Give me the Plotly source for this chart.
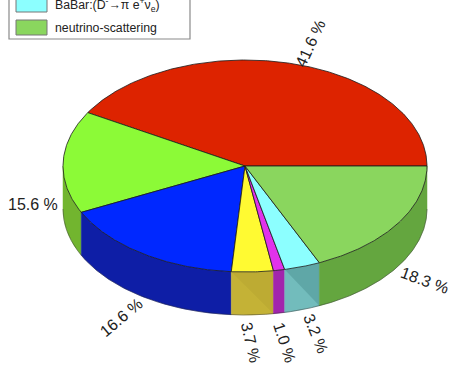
import numpy as np
import plotly.graph_objects as go

# Shares in percent, drawn counter-clockwise from the +x direction
names = ["red", "lime", "blue", "yellow", "magenta", "BaBar", "neutrino-scattering"]
shares = [41.6, 15.6, 16.6, 3.7, 1.0, 3.2, 18.3]
top_colors = ["#DD2300", "#8CFA37", "#0028FF", "#FFFA32", "#E132EB", "#8CFFFF", "#8AD65E"]
side_colors = ["#A01A00", "#72B52F", "#0E1EA6", "#C4B236", "#A226AC", "#72BCBC", "#64A63F"]
value_labels = ["41.6 %", "15.6 %", "16.6 %", "3.7 %", "1.0 %", "3.2 %", "18.3 %"]
label_x = [310, 33, 121, 251, 285, 316, 425]
label_y = [43, 204, 317, 342, 342, 333, 280]
label_rot = [-65, 0, -40, 77, 72, 68, 20]

legend_labels = ["BaBar:(D<sup>-</sup>→π e<sup>+</sup>ν<sub>e</sub>)", "neutrino-scattering"]
legend_colors = ["#8CFFFF", "#8AD65E"]

CX, CY, RX, RY, DEPTH = 245, 166, 182, 106, 43
FONT = "Liberation Sans"


def rim(a0, a1):
    t = np.radians(np.linspace(a0, a1, max(int(abs(a1 - a0)) * 2, 2) + 1))
    return CX + RX * np.cos(t), CY - RY * np.sin(t)


fig = go.Figure()
edges = np.concatenate([[0], np.cumsum(shares) * 3.6])

# Outer wall: only the front half of the rim is visible
for i, c in enumerate(side_colors):
    a0, a1 = max(edges[i], 180), edges[i + 1]
    if a1 <= a0:
        continue
    x, y = rim(a0, a1)
    fig.add_trace(go.Scatter(
        x=np.concatenate([x, x[::-1], x[:1]]),
        y=np.concatenate([y, y[::-1] + DEPTH, y[:1]]),
        mode="lines", fill="toself", fillcolor=c,
        line=dict(color=c, width=0.5), hoverinfo="skip", showlegend=False))

# Darker diagonal facets on the narrow yellow and cyan wall panels
for i, shade in ((3, "rgba(60,50,0,0.05)"), (5, "rgba(0,60,60,0.16)")):
    x, y = rim(edges[i], edges[i + 1])
    fig.add_trace(go.Scatter(
        x=np.concatenate([x, [x[-1]], [x[0]]]),
        y=np.concatenate([y, [y[-1] + DEPTH], [y[0]]]),
        mode="lines", fill="toself", fillcolor=shade,
        line=dict(width=0), hoverinfo="skip", showlegend=False))

# Lower edge of the wall
bx, by = rim(180, 360)
fig.add_trace(go.Scatter(x=bx, y=by + DEPTH, mode="lines",
                         line=dict(color="rgba(40,40,40,0.55)", width=0.8),
                         hoverinfo="skip", showlegend=False))

# Top face wedges
for i, c in enumerate(top_colors):
    x, y = rim(edges[i], edges[i + 1])
    fig.add_trace(go.Scatter(
        x=np.concatenate([[CX], x, [CX]]),
        y=np.concatenate([[CY], y, [CY]]),
        mode="lines", fill="toself", fillcolor=c,
        line=dict(color="#1a1a1a", width=0.8), name=names[i],
        hoverinfo="skip", showlegend=False))

annotations = [
    dict(x=px, y=py, text=t, textangle=r, showarrow=False, xanchor="center", yanchor="middle",
         font=dict(family=FONT, size=16, color="#222"))
    for t, px, py, r in zip(value_labels, label_x, label_y, label_rot)
]

# Legend box, running off the top edge of the canvas
shapes = [dict(type="rect", x0=9, x1=190, y0=-40, y1=39, fillcolor="white",
               line=dict(color="#8a8a8a", width=1.2))]
for k, (lab, col) in enumerate(zip(legend_labels, legend_colors)):
    y_mid = 5 + 23 * k
    shapes.append(dict(type="rect", x0=16, x1=47, y0=y_mid - 12 + 4 * k, y1=y_mid + 7,
                       fillcolor=col, line=dict(color="#777", width=1)))
    annotations.append(dict(x=53, y=y_mid, text=lab, showarrow=False, xanchor="left", yanchor="middle",
                            font=dict(family=FONT, size=12.3, color="#222")))

fig.update_layout(
    width=449, height=367, margin=dict(l=0, r=0, t=0, b=0),
    paper_bgcolor="white", plot_bgcolor="white",
    xaxis=dict(range=[0, 449], visible=False, fixedrange=True),
    yaxis=dict(range=[367, 0], visible=False, fixedrange=True),
    shapes=shapes, annotations=annotations,
)
fig.write_html("out.html", config=dict(displayModeBar=False))
